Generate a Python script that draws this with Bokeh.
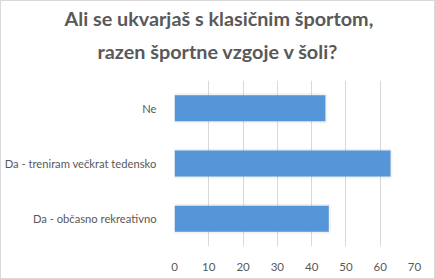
from bokeh.plotting import figure
from bokeh.models import ColumnDataSource, Range1d, FixedTicker, Title
from bokeh.embed import file_html
from bokeh.resources import INLINE

categories = ["Da - občasno rekreativno", "Da - treniram večkrat tedensko", "Ne"]
values = [45, 63, 44]
x_ticks = [0, 10, 20, 30, 40, 50, 60, 70]
title_lines = ["Ali se ukvarjaš s klasičnim športom,", "razen športne vzgoje v šoli?"]

src = ColumnDataSource(dict(cat=categories, val=values))

p = figure(width=435, height=279, y_range=categories, x_range=Range1d(0, 70),
           output_backend="svg", toolbar_location=None,
           min_border_left=172, min_border_right=22, min_border_top=79, min_border_bottom=34)
p.title.visible = False

title_style = dict(align="left", text_font="Lato", text_font_size="19.8px",
                   text_font_style="bold", text_color="#595959")
# titles centred on the whole chart (not the frame) via negative left offsets
t2 = Title(text=title_lines[1], offset=-77, standoff=35, **title_style)
t1 = Title(text=title_lines[0], offset=-110, standoff=-20, **title_style)
p.add_layout(t2, "above")
p.add_layout(t1, "above")

# soft shadow
p.hbar(y="cat", right="val", left=0, height=0.47, source=src,
       fill_color="#000000", fill_alpha=0.06, line_color="#000000", line_alpha=0.05,
       line_width=4)
p.hbar(y="cat", right="val", left=0, height=0.47, source=src,
       fill_color="#5596d8", line_color=None)

p.xaxis.ticker = FixedTicker(ticks=x_ticks)
for ax in (p.xaxis[0], p.yaxis[0]):
    ax.axis_line_color = None
    ax.major_tick_line_color = None
    ax.minor_tick_line_color = None
    ax.major_label_text_font = "Lato"
    ax.major_label_text_font_size = "11.5px"
    ax.major_label_text_color = "#595959"
p.yaxis.major_label_text_font_size = "11.2px"
p.yaxis.major_label_standoff = 12
p.xaxis.major_label_standoff = 10
p.ygrid.grid_line_color = None
p.xgrid.grid_line_color = "#d9d9d9"
p.outline_line_color = None
p.styles = {"border": "1px solid #d9d9d9", "box-sizing": "border-box"}

open("out.html", "w").write(file_html(p, INLINE))
